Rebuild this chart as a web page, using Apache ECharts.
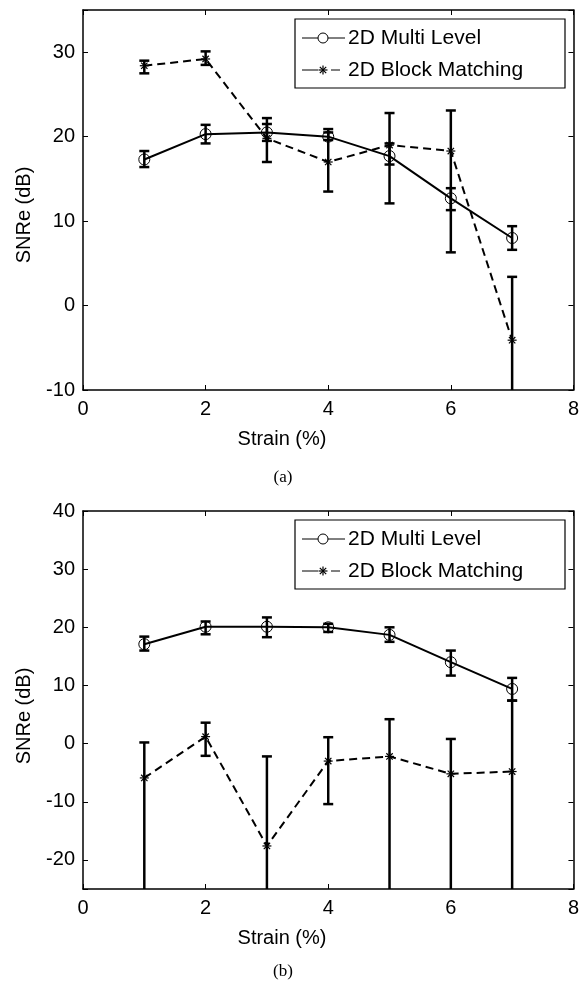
<!DOCTYPE html>
<html>
<head>
<meta charset="utf-8">
<script src="https://cdn.jsdelivr.net/npm/echarts@6/dist/echarts.min.js"></script>
<style>
html,body{margin:0;padding:0;background:#fff;}
#chart{width:582px;height:983px;}
</style>
</head>
<body>
<div id="chart"></div>
<script>
// ---------- data ----------
const strain = [1, 2, 3, 4, 5, 6, 7];
const seriesNames = ['2D Multi Level', '2D Block Matching'];
const xTitle = 'Strain (%)';
const yTitle = 'SNRe (dB)';
const xTicks = [0, 2, 4, 6, 8];
const yTicksA = [-10, 0, 10, 20, 30];
const yTicksB = [-20, -10, 0, 10, 20, 30, 40];

// Panel (a)
const mlA    = [17.3, 20.3, 20.5, 20.0, 17.7, 12.7, 8.0];
const mlA_lo = [16.4, 19.2, 19.5, 19.6, 16.7, 11.3, 6.6];
const mlA_hi = [18.3, 21.4, 21.5, 20.9, 19.2, 13.9, 9.4];
const bmA    = [28.4, 29.2, 19.8, 17.0, 19.0, 18.3, -4.1];
const bmA_lo = [27.5, 28.5, 17.0, 13.5, 12.1, 6.3, -11.7];
const bmA_hi = [29.0, 30.1, 22.2, 20.5, 22.8, 23.1, 3.4];

// Panel (b)
const mlB    = [17.1, 20.1, 20.1, 20.0, 18.7, 14.0, 9.4];
const mlB_lo = [16.0, 18.8, 18.3, 19.2, 17.5, 11.7, 7.4];
const mlB_hi = [18.4, 21.0, 21.7, 20.6, 20.0, 16.0, 11.3];
const bmB    = [-5.9, 1.2, -17.6, -3.0, -2.2, -5.2, -4.8];
const bmB_lo = [-27, -2.1, -27, -10.4, -27, -27, -27];
const bmB_hi = [0.2, 3.6, -2.2, 1.1, 4.2, 0.8, 7.4];

// ---------- helpers ----------
const FONT = '"Liberation Sans", Arial, Helvetica, sans-serif';
const FS = 20;
const LFS = 21;
const zip2 = (a, b) => a.map((v, i) => [a[i], b[i]]);
const zip3 = (a, b, c) => a.map((v, i) => [a[i], b[i], c[i]]);

function errRender(params, api) {
  const x = api.value(0), lo = api.value(1), hi = api.value(2);
  const pLo = api.coord([x, lo]);
  const pHi = api.coord([x, hi]);
  const w = 5;
  const st = { stroke: '#000', lineWidth: 2.5, fill: null };
  return {
    type: 'group',
    children: [
      { type: 'line', shape: { x1: pLo[0], y1: pLo[1], x2: pHi[0], y2: pHi[1] }, style: st },
      { type: 'line', shape: { x1: pHi[0] - w, y1: pHi[1], x2: pHi[0] + w, y2: pHi[1] }, style: st },
      { type: 'line', shape: { x1: pLo[0] - w, y1: pLo[1], x2: pLo[0] + w, y2: pLo[1] }, style: st }
    ]
  };
}
function starRender(params, api) {
  const p = api.coord([api.value(0), api.value(1)]);
  const r = 4.5, d = r * 0.707;
  const st = { stroke: '#000', lineWidth: 1.2, fill: null };
  return {
    type: 'group',
    children: [
      { type: 'line', shape: { x1: p[0] - r, y1: p[1], x2: p[0] + r, y2: p[1] }, style: st },
      { type: 'line', shape: { x1: p[0], y1: p[1] - r, x2: p[0], y2: p[1] + r }, style: st },
      { type: 'line', shape: { x1: p[0] - d, y1: p[1] - d, x2: p[0] + d, y2: p[1] + d }, style: st },
      { type: 'line', shape: { x1: p[0] - d, y1: p[1] + d, x2: p[0] + d, y2: p[1] - d }, style: st }
    ]
  };
}

const grids = [
  { left: 83, top: 10, width: 492, height: 380 },
  { left: 83, top: 511, width: 492, height: 378 }
];
const yRanges = [[-10, 35, yTicksA], [-25, 40, yTicksB]];

const xAxes = [], yAxes = [];
grids.forEach((g, gi) => {
  const axisLine = { show: true, onZero: false, lineStyle: { color: '#000', width: 1.5 } };
  const axisTick = { show: true, inside: true, length: 5, lineStyle: { color: '#000', width: 1 } };
  xAxes.push({
    type: 'value', gridIndex: gi, min: 0, max: 8, interval: 2, position: 'bottom',
    axisLine, axisTick, splitLine: { show: false },
    axisLabel: { fontFamily: FONT, fontSize: FS, color: '#000', margin: 9,
      formatter: v => xTicks.includes(v) ? String(v) : '' }
  });
  xAxes.push({
    type: 'value', gridIndex: gi, min: 0, max: 8, interval: 2, position: 'top',
    axisLine, axisTick, splitLine: { show: false }, axisLabel: { show: false }
  });
  const [mn, mx, ticks] = yRanges[gi];
  yAxes.push({
    type: 'value', gridIndex: gi, min: mn, max: mx, position: 'left',
    axisLine, axisTick, splitLine: { show: false },
    axisLabel: { fontFamily: FONT, fontSize: FS, color: '#000', margin: 8,
      formatter: v => ticks.includes(v) ? String(v) : '' }
  });
  yAxes.push({
    type: 'value', gridIndex: gi, min: mn, max: mx, position: 'right',
    axisLine, axisTick, splitLine: { show: false }, axisLabel: { show: false }
  });
});

function panelSeries(gi, ml, mlLo, mlHi, bm, bmLo, bmHi) {
  const xi = gi * 2, yi = gi * 2;
  return [
    { type: 'custom', name: seriesNames[1] + ' err', xAxisIndex: xi, yAxisIndex: yi, clip: true,
      renderItem: errRender, data: zip3(strain, bmLo, bmHi), z: 2, silent: true },
    { type: 'custom', name: seriesNames[0] + ' err', xAxisIndex: xi, yAxisIndex: yi, clip: true,
      renderItem: errRender, data: zip3(strain, mlLo, mlHi), z: 2, silent: true },
    { type: 'line', name: seriesNames[1], xAxisIndex: xi, yAxisIndex: yi, data: zip2(strain, bm),
      symbol: 'none', lineStyle: { color: '#000', width: 2, type: [8, 5] }, z: 3, silent: true },
    { type: 'custom', name: seriesNames[1] + ' mk', xAxisIndex: xi, yAxisIndex: yi,
      renderItem: starRender, data: zip2(strain, bm), z: 4, silent: true },
    { type: 'line', name: seriesNames[0], xAxisIndex: xi, yAxisIndex: yi, data: zip2(strain, ml),
      symbol: 'circle', symbolSize: 11, showSymbol: true,
      itemStyle: { color: 'rgba(0,0,0,0)', borderColor: '#000', borderWidth: 1 },
      lineStyle: { color: '#000', width: 2 }, z: 5, silent: true }
  ];
}

function legendGraphics(x, y) {
  const w = 270, h = 69;
  const r1 = y + 19, r2 = y + 51;
  const st = { stroke: '#000', lineWidth: 1 };
  const cx = x + 28;
  const items = [
    { type: 'rect', shape: { x: x, y: y, width: w, height: h }, style: { fill: '#fff', stroke: '#000', lineWidth: 1.2 } },
    { type: 'line', shape: { x1: x + 7, y1: r1, x2: x + 50, y2: r1 }, style: st },
    { type: 'circle', shape: { cx: cx, cy: r1, r: 5 }, style: { fill: '#fff', stroke: '#000', lineWidth: 1 } },
    { type: 'text', style: { x: x + 53, y: r1, text: seriesNames[0], font: LFS + 'px ' + FONT, fill: '#000', verticalAlign: 'middle' } },
    { type: 'line', shape: { x1: x + 7, y1: r2, x2: x + 23, y2: r2 }, style: st },
    { type: 'line', shape: { x1: x + 36, y1: r2, x2: x + 45, y2: r2 }, style: st },
    { type: 'text', style: { x: x + 53, y: r2, text: seriesNames[1], font: LFS + 'px ' + FONT, fill: '#000', verticalAlign: 'middle' } }
  ];
  const r = 4.5, d = r * 0.707;
  [[-r, 0, r, 0], [0, -r, 0, r], [-d, -d, d, d], [-d, d, d, -d]].forEach(s => {
    items.push({ type: 'line', shape: { x1: cx + s[0], y1: r2 + s[1], x2: cx + s[2], y2: r2 + s[3] }, style: { stroke: '#000', lineWidth: 1.2 } });
  });
  return items;
}

function titleGraphics(plotTop, xNameY, capY, cap) {
  return [
    { type: 'text', style: { x: 282, y: xNameY, text: xTitle, font: FS + 'px ' + FONT, fill: '#000', align: 'center', verticalAlign: 'middle' } },
    { type: 'text', x: 24, y: plotTop + 205, rotation: Math.PI / 2,
      style: { x: 0, y: 0, text: yTitle, font: FS + 'px ' + FONT, fill: '#000', align: 'center', verticalAlign: 'middle' } },
    { type: 'text', style: { x: 283, y: capY, text: cap, font: '17px "Liberation Serif", "Times New Roman", serif', fill: '#000', align: 'center', verticalAlign: 'middle' } }
  ];
}

const chart = echarts.init(document.getElementById('chart'), null, { renderer: 'canvas' });
chart.setOption({
  animation: false,
  backgroundColor: '#fff',
  grid: grids,
  xAxis: xAxes,
  yAxis: yAxes,
  series: [].concat(
    panelSeries(0, mlA, mlA_lo, mlA_hi, bmA, bmA_lo, bmA_hi),
    panelSeries(1, mlB, mlB_lo, mlB_hi, bmB, bmB_lo, bmB_hi)
  ),
  graphic: [].concat(
    legendGraphics(295, 19),
    legendGraphics(295, 520),
    titleGraphics(10, 439, 478, '(a)'),
    titleGraphics(511, 938, 972, '(b)')
  )
});
</script>
</body>
</html>
